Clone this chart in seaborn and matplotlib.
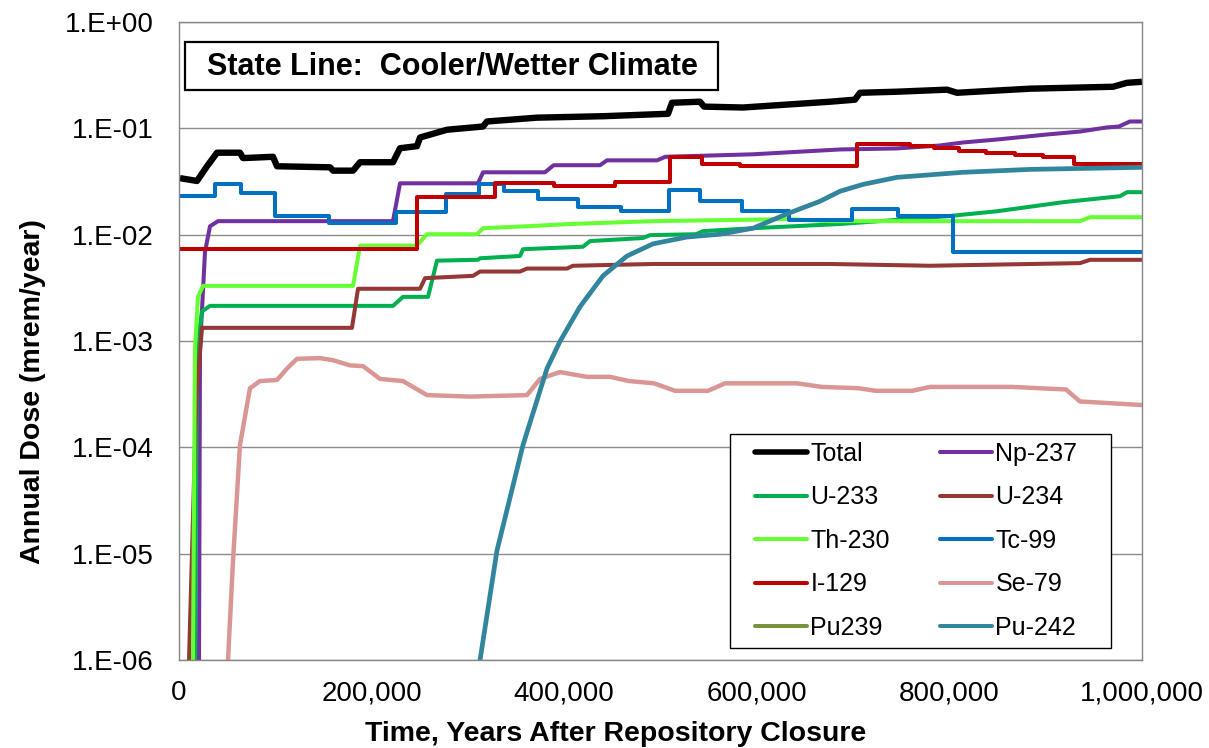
import numpy as np
import pandas as pd
import matplotlib
matplotlib.use("Agg")
import matplotlib.pyplot as plt
import matplotlib.ticker as mticker
from matplotlib.patches import Rectangle
from matplotlib.lines import Line2D
import seaborn as sns

# ---------------- data (years, annual dose mrem/yr) ----------------
total_t = [1000, 18700, 29100, 39500, 63300, 66500, 97600, 101800, 156800, 160000, 180700, 188000,
           222200, 229500, 247100, 250300, 278300, 315700, 319800, 371800, 440300, 507800, 511900,
           541000, 545200, 585700, 676000, 701900, 707200, 745600, 797500, 807900, 883700, 969900,
           984400, 1000000]
total_v = [0.034, 0.032, 0.044, 0.059, 0.059, 0.0525, 0.054, 0.044, 0.043, 0.040, 0.040, 0.048,
           0.048, 0.065, 0.068, 0.082, 0.097, 0.104, 0.116, 0.126, 0.130, 0.137, 0.174,
           0.178, 0.160, 0.157, 0.178, 0.186, 0.216, 0.221, 0.231, 0.216, 0.236, 0.246,
           0.268, 0.274]

np237_t = [19500, 20800, 21800, 27000, 32200, 40500, 222200, 229500, 310500, 315700, 380000, 389000,
           437200, 444400, 496400, 505000, 596100, 686400, 745600, 790200, 814100, 849400, 901300,
           935600, 963700, 976000, 987500, 1000000]
np237_v = [1e-7, 1e-6, 8.5e-4, 6.9e-3, 0.012, 0.0134, 0.0134, 0.0304, 0.0304, 0.0386, 0.0386, 0.045,
           0.045, 0.050, 0.050, 0.054, 0.057, 0.0633, 0.0647, 0.069, 0.0736, 0.0785, 0.0875,
           0.0933, 0.102, 0.104, 0.116, 0.116]

u233_t = [15500, 16600, 18700, 23900, 32200, 222200, 232600, 258600, 267900, 310500, 312600, 354100,
          357200, 419500, 426800, 481800, 489100, 537000, 544100, 596100, 686400, 797500, 849400,
          918000, 977200, 984400, 1000000]
u233_v = [1e-7, 1e-6, 8.5e-4, 0.0019, 0.00214, 0.00214, 0.0026, 0.0026, 0.0057, 0.0058, 0.0060, 0.0063,
          0.0073, 0.0077, 0.0087, 0.0093, 0.0099, 0.0101, 0.0108, 0.0115, 0.0126, 0.0149, 0.0166,
          0.0202, 0.0230, 0.0251, 0.0251]

u234_t = [9000, 10400, 18000, 23900, 179600, 185900, 250300, 255500, 305300, 312600, 354100, 361400,
          402900, 409100, 492200, 676000, 780000, 935600, 946000, 1000000]
u234_v = [1e-7, 1e-6, 3e-4, 0.00133, 0.00133, 0.0031, 0.0031, 0.0039, 0.0041, 0.0045, 0.0045, 0.0048,
          0.0048, 0.0051, 0.0053, 0.0053, 0.0051, 0.0054, 0.0058, 0.0058]

th230_t = [13500, 14500, 16600, 19700, 24900, 180700, 188000, 247100, 257500, 309400, 315700, 361400,
           406000, 492200, 631400, 676000, 935600, 946000, 1000000]
th230_v = [1e-7, 1e-6, 8.5e-4, 0.0026, 0.0033, 0.0033, 0.0079, 0.0079, 0.0101, 0.0101, 0.0115, 0.0120,
           0.0126, 0.0134, 0.0140, 0.0134, 0.0134, 0.0146, 0.0146]

tc99_t = [1000, 37000, 64500, 99500, 155500, 225000, 277000, 311500, 337000, 372500, 414000, 458500,
          508500, 540500, 585000, 633000, 698500, 747000, 804000, 1000000]
tc99_v = [0.0230, 0.0298, 0.0245, 0.0149, 0.0130, 0.0163, 0.0240, 0.0298, 0.0256, 0.0215, 0.0181, 0.0166,
          0.0262, 0.0206, 0.0166, 0.0137, 0.0174, 0.0149, 0.0069, 0.0069]

i129_t = [1000, 247500, 328500, 389000, 453000, 510000, 543500, 583000, 704500, 759500, 783500, 809500,
          837500, 868500, 897500, 929500, 1000000]
i129_v = [0.0073, 0.0225, 0.0304, 0.0285, 0.0311, 0.0533, 0.0458, 0.0439, 0.0705, 0.0676, 0.0647, 0.0606,
          0.0581, 0.0557, 0.0533, 0.0458, 0.0458]

se79_t = [49500, 50900, 56100, 63300, 73700, 84100, 101800, 112100, 122500, 146400, 159900, 177600,
          191100, 208700, 232600, 257500, 302200, 361400, 374900, 395600, 423700, 447600, 467300,
          493300, 515100, 549300, 567000, 641700, 667700, 705100, 723800, 761200, 779900, 865000,
          921100, 935600, 1000000]
se79_v = [1e-7, 1e-6, 8.6e-6, 1.05e-4, 3.6e-4, 4.2e-4, 4.3e-4, 5.5e-4, 6.8e-4, 6.9e-4, 6.6e-4, 5.9e-4,
          5.8e-4, 4.4e-4, 4.2e-4, 3.1e-4, 3.0e-4, 3.1e-4, 4.4e-4, 5.1e-4, 4.6e-4, 4.6e-4, 4.2e-4,
          4.0e-4, 3.4e-4, 3.4e-4, 4.0e-4, 4.0e-4, 3.7e-4, 3.6e-4, 3.4e-4, 3.4e-4, 3.7e-4, 3.7e-4,
          3.5e-4, 2.7e-4, 2.5e-4]

pu239_t = [1000, 1000000]
pu239_v = [1e-9, 1e-9]

pu242_t = [296000, 312600, 330200, 357200, 382100, 395600, 416400, 440300, 465200, 492200, 527500,
           561800, 596100, 631400, 665600, 686400, 710300, 745600, 814100, 883700, 1000000]
pu242_v = [1e-7, 1e-6, 1.07e-5, 1.05e-4, 5.5e-4, 9.9e-4, 2.1e-3, 4.1e-3, 6.3e-3, 8.2e-3, 9.5e-3,
           0.0101, 0.0115, 0.0157, 0.0206, 0.0256, 0.0297, 0.0346, 0.0386, 0.0411, 0.043]

x_ticks = [0, 200000, 400000, 600000, 800000, 1000000]
y_ticks = [1e-6, 1e-5, 1e-4, 1e-3, 1e-2, 1e-1, 1e0]

title_text = "State Line:  Cooler/Wetter Climate"
x_label = "Time, Years After Repository Closure"
y_label = "Annual Dose (mrem/year)"

# (name, times, values, color, linewidth, drawstyle) in Excel series order
series = [
    ("Total", total_t, total_v, "#000000", 4.6, "default"),
    ("Np-237", np237_t, np237_v, "#7030A0", 2.9, "default"),
    ("U-233", u233_t, u233_v, "#00B050", 2.9, "default"),
    ("U-234", u234_t, u234_v, "#953735", 2.9, "default"),
    ("Th-230", th230_t, th230_v, "#66FF33", 2.9, "default"),
    ("Tc-99", tc99_t, tc99_v, "#0070C0", 2.9, "steps-post"),
    ("I-129", i129_t, i129_v, "#C00000", 2.9, "steps-post"),
    ("Se-79", se79_t, se79_v, "#DA9694", 3.2, "default"),
    ("Pu239", pu239_t, pu239_v, "#77933C", 3.2, "default"),
    ("Pu-242", pu242_t, pu242_v, "#31859C", 3.4, "default"),
]
legend_order = ["Total", "U-233", "Th-230", "I-129", "Pu239",
                "Np-237", "U-234", "Tc-99", "Se-79", "Pu-242"]

# ---------------- style ----------------
sns.set_style("white")
plt.rcParams["font.family"] = ["Liberation Sans", "DejaVu Sans"]
plt.rcParams["text.color"] = "black"
plt.rcParams["axes.labelcolor"] = "black"
plt.rcParams["xtick.color"] = "black"
plt.rcParams["ytick.color"] = "black"

W, H = 1209, 748
fig = plt.figure(figsize=(W / 100, H / 100), dpi=100)
L, R, T, B = 179, 1142, 22, 660
ax = fig.add_axes([L / W, 1 - B / H, (R - L) / W, (B - T) / H])

handles = {}
for name, t, v, col, lw, ds in series:
    df = pd.DataFrame({"t": t, "v": v})
    sns.lineplot(data=df, x="t", y="v", ax=ax, color=col, lw=lw, drawstyle=ds,
                 estimator=None, sort=False, legend=False, solid_capstyle="butt",
                 solid_joinstyle="round")
    handles[name] = Line2D([], [], color=col, lw=(4.0 if name == "Total" else 2.9),
                           solid_capstyle="round")

ax.set_yscale("log")
ax.set_xlim(0, 1000000)
ax.set_ylim(1e-6, 1)
ax.set_xticks(x_ticks)
ax.set_yticks(y_ticks)
ax.yaxis.set_minor_locator(mticker.NullLocator())
ax.xaxis.set_major_formatter(mticker.FuncFormatter(lambda v, p: f"{int(v):,}"))
ax.yaxis.set_major_formatter(mticker.FuncFormatter(
    lambda v, p: f"1.E{int(round(np.log10(v))):+03d}"))

ax.grid(axis="y", color="#8c8c8c", lw=1.0)
ax.grid(axis="x", visible=False)
ax.set_axisbelow(True)
for s in ax.spines.values():
    s.set_color("#868686")
    s.set_linewidth(1.0)
ax.tick_params(axis="both", which="major", direction="out", length=6.5, width=1.0,
               color="#868686", labelsize=20, labelcolor="black")
ax.tick_params(axis="y", pad=12)
ax.tick_params(axis="x", pad=8)

ax.set_xlabel(x_label, fontsize=20.5, fontweight="bold", color="black")
ax.set_ylabel(y_label, fontsize=20.5, fontweight="bold", color="black")
ax.xaxis.set_label_coords(0.453, -0.095)
ax.yaxis.set_label_coords(-0.138, 0.42)

# title box
ax.add_patch(Rectangle((0.0062, 0.8934), 0.5535, 0.0753, transform=ax.transAxes,
                       facecolor="white", edgecolor="black", lw=1.6, zorder=5))
ax.text(0.2835, 0.931, title_text, transform=ax.transAxes, fontsize=22, fontweight="bold",
        ha="center", va="center", zorder=6, color="black")

# legend box
ax.add_patch(Rectangle((0.572, 0.0188), 0.396, 0.3354, transform=ax.transAxes,
                       facecolor="white", edgecolor="black", lw=1.0, zorder=5))
leg = ax.legend([handles[n] for n in legend_order], legend_order, ncol=2,
                loc="upper left", bbox_to_anchor=(0.598, 0.342), frameon=False,
                fontsize=18, handlelength=2.1, handletextpad=0.12, columnspacing=2.0,
                labelspacing=0.78, borderpad=0, borderaxespad=0)
for txt in leg.get_texts():
    txt.set_color("black")
leg.set_zorder(6)

fig.savefig("out.png", dpi=100)
